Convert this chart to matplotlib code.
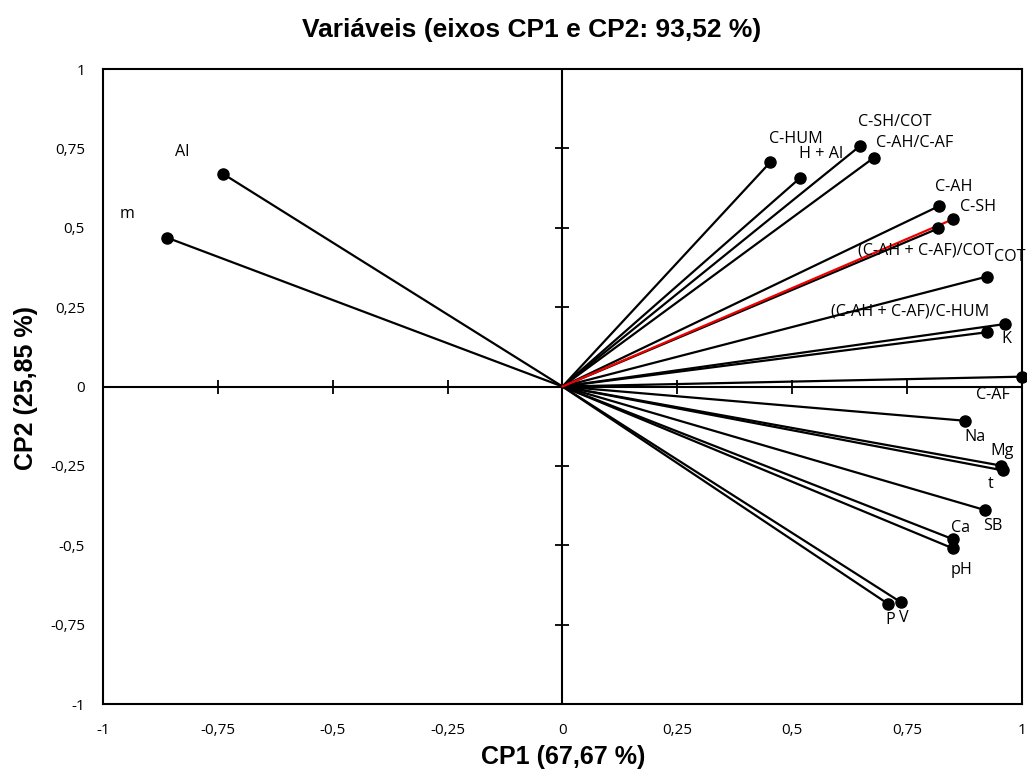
import matplotlib
matplotlib.use("Agg")
import matplotlib.pyplot as plt

# ---- data ----
names = ["Al", "m", "C-HUM", "H + Al", "C-SH/COT", "C-AH/C-AF", "C-AH", "C-SH",
         "(C-AH + C-AF)/COT", "COT", "(C-AH + C-AF)/C-HUM", "K", "C-AF", "Na",
         "Mg", "t", "SB", "Ca", "pH", "P", "V"]
cp1 = [-0.739, -0.861, 0.452, 0.518, 0.647, 0.678, 0.819, 0.850,
       0.818, 0.923, 0.924, 0.964, 1.000, 0.877,
       0.954, 0.958, 0.919, 0.850, 0.850, 0.708, 0.737]
cp2 = [0.670, 0.469, 0.706, 0.658, 0.757, 0.721, 0.568, 0.527,
       0.498, 0.346, 0.171, 0.197, 0.031, -0.108,
       -0.249, -0.264, -0.389, -0.481, -0.510, -0.684, -0.680]
highlight = "C-SH"
ticks = [-1, -0.75, -0.5, -0.25, 0, 0.25, 0.5, 0.75, 1]
tick_labels = ["-1", "-0,75", "-0,5", "-0,25", "0", "0,25", "0,5", "0,75", "1"]
title = "Variáveis (eixos CP1 e CP2: 93,52 %)"
xlabel = "CP1 (67,67 %)"
ylabel = "CP2 (25,85 %)"

# label offsets (pixels) relative to each point
offsets = {
    "Al": (-41, 22), "m": (-40, 24), "C-HUM": (26, 23), "H + Al": (21, 24),
    "C-SH/COT": (35, 24), "C-AH/C-AF": (41, 15), "C-AH": (15, 19), "C-SH": (25, 12),
    "(C-AH + C-AF)/COT": (-12, -22), "COT": (23, 20), "(C-AH + C-AF)/C-HUM": (-77, 21),
    "K": (1, -15), "C-AF": (-29, -18), "Na": (10, -16), "Mg": (1, 15), "t": (-12, -14),
    "SB": (8, -16), "Ca": (8, 11), "pH": (9, -22), "P": (2, -16), "V": (3, -16),
}

lab_font = "Open Sans"
head_font = ["Liberation Sans", "DejaVu Sans"]

fig = plt.figure(figsize=(10.27, 7.78), dpi=100)
ax = fig.add_axes([0.1003, 0.0951, 0.8948, 0.8162])
ax.set_xlim(-1, 1)
ax.set_ylim(-1, 1)

for s in ax.spines.values():
    s.set_linewidth(1.5)
    s.set_color("black")

# zero axes with crossing tick marks
ax.axhline(0, color="black", lw=1.5, zorder=1)
ax.axvline(0, color="black", lw=1.5, zorder=1)
ax.plot(ticks, [0] * len(ticks), ls="none", marker="|", ms=10, mew=1.3, color="black", zorder=1)
ax.plot([0] * len(ticks), ticks, ls="none", marker="_", ms=10, mew=1.3, color="black", zorder=1)

ax.set_xticks(ticks)
ax.set_yticks(ticks)
ax.set_xticklabels(tick_labels, fontfamily=lab_font, fontsize=11)
ax.set_yticklabels(tick_labels, fontfamily=lab_font, fontsize=11)
ax.tick_params(axis="both", length=0)
ax.tick_params(axis="x", pad=14)
ax.tick_params(axis="y", pad=13)

# vectors
for n, x, y in zip(names, cp1, cp2):
    if n == highlight:
        continue
    ax.plot([0, x], [0, y], color="black", lw=1.6, zorder=2)
    ax.plot([x], [y], "o", color="black", ms=8, zorder=4, clip_on=False)
for n, x, y in zip(names, cp1, cp2):
    if n != highlight:
        continue
    ax.plot([0, x], [0, y], color="#ee0000", lw=1.6, zorder=3)
    ax.plot([x], [y], "o", color="black", ms=8, zorder=4, clip_on=False)

for n, x, y in zip(names, cp1, cp2):
    dx, dy = offsets[n]
    ax.annotate(n, (x, y), xytext=(dx, dy), textcoords="offset pixels",
                ha="center", va="center", fontfamily=lab_font, fontsize=11.6,
                color="black", zorder=5, annotation_clip=False)

fig.text(0.518, 1 - 30 / 778, title, ha="center", va="center",
         fontfamily=head_font, fontweight="bold", fontsize=19)
fig.text(0.548, 1 - 757 / 778, xlabel, ha="center", va="center",
         fontfamily=head_font, fontweight="bold", fontsize=18)
fig.text(26 / 1027, 1 - 388 / 778, ylabel, ha="center", va="center", rotation=90,
         fontfamily=head_font, fontweight="bold", fontsize=18)

fig.savefig("out.png", dpi=100)
